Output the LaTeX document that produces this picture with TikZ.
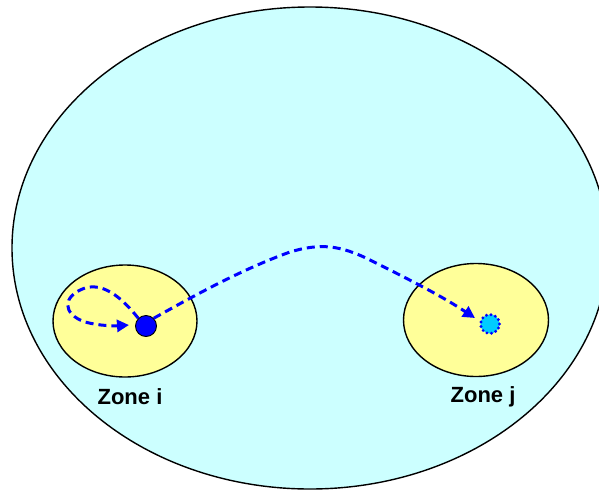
\documentclass[tikz,border=0pt]{standalone}
\usepackage{fontspec}
\setmainfont{Liberation Sans}
\usetikzlibrary{arrows.meta,shapes.geometric}
\definecolor{skyfill}{HTML}{CCFFFF}
\definecolor{zonefill}{HTML}{FFFF99}
\definecolor{pathblue}{HTML}{0000FF}
\definecolor{dotcyan}{HTML}{00CCFF}
\tikzset{
  zonebox/.style={draw=black, line width=1.4pt, fill=zonefill},
  movepath/.style={draw=pathblue, line width=3pt, dash pattern=on 8pt off 5pt, -{Triangle[length=12pt,width=12pt]}},
  zonelabel/.style={font=\bfseries\fontsize{22}{26}\selectfont}
}
\begin{document}
\begin{tikzpicture}[x=1pt,y=-1pt]
\useasboundingbox (0,0) rectangle (599,490);
\clip (0,0) rectangle (599,490);
\node[draw=black, line width=1.4pt, fill=skyfill, ellipse, minimum width=596pt, minimum height=482pt, inner sep=0pt] (world) at (310,248) {};
\node[zonebox, ellipse, minimum width=144pt, minimum height=112pt, inner sep=0pt] (zi) at (125,321) {};
\node[zonebox, ellipse, minimum width=145pt, minimum height=113pt, inner sep=0pt] (zj) at (476,320) {};
\node[circle, draw=black, line width=0.9pt, fill=pathblue, minimum size=21pt, inner sep=0pt] (di) at (146,326) {};
\node[circle, draw=pathblue, line width=3.2pt, dash pattern=on 0pt off 4.6pt, line cap=round, fill=dotcyan, minimum size=19pt, inner sep=0pt] (dj) at (490,324) {};
\node[zonelabel] (li) at (130,397) {Zone i};
\node[zonelabel] (lj) at (483,397) {Zone j};
\coordinate (loopend) at (129,325);
\coordinate (tipj) at (475,318);
\draw[movepath] (di.north west) .. controls (120,295) and (102,283) .. (85,288)
  .. controls (62,296) and (62,314) .. (85,322)
  .. controls (100,326) and (115,326) .. (loopend);
\draw[movepath] (di.north east) .. controls (190,298) and (240,270) .. (290,252)
  .. controls (320,243) and (340,245) .. (370,260)
  .. controls (410,280) and (440,295) .. (tipj);
\end{tikzpicture}
\end{document}
